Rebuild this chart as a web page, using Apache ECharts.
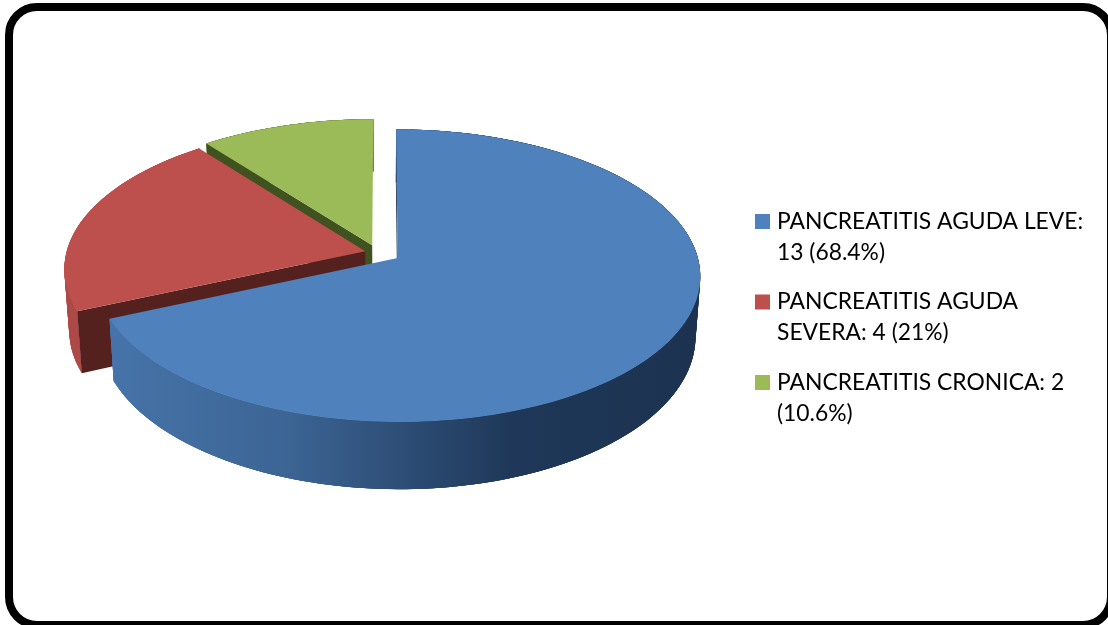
<!DOCTYPE html>
<html>
<head>
<meta charset="utf-8">
<style>html,body{margin:0;padding:0;background:#fff}#c{width:1108px;height:625px}</style>
<script src="https://cdn.jsdelivr.net/npm/echarts@6/dist/echarts.min.js"></script>
</head>
<body>
<div id="c"></div>
<script>
const categories = ['PANCREATITIS AGUDA LEVE:\n13 (68.4%)', 'PANCREATITIS AGUDA\nSEVERA: 4 (21%)', 'PANCREATITIS CRONICA: 2\n(10.6%)'];
const values = [13, 4, 2];

// Look of each slice: top face, outer wall, cut face, explosion in unit-circle terms
const topColors = ['#4f81bd', '#bd4f4c', '#9bbb59'];
const faceColors = ['#1c3350', '#54211f', '#3f5220'];
const explode = [[0.0503, 0.0327], [-0.0582, -0.0146], [-0.035, -0.0568]];
const blueWall = [[0, '#4673a9'], [0.3, '#3c6594'], [0.5, '#2d4d75'], [0.68, '#1f3859'], [1, '#1c3250']];
const wallColors = [
  { type: 'linear', x: 110, y: 0, x2: 700, y2: 0, global: true, colorStops: blueWall.map(s => ({ offset: s[0], color: s[1] })) },
  '#ad4a48',
  '#5f7336'
];

// Perspective projection of the tilted pie
const P = { x0: 382.6, y0: 253.3, b: 299, a: 143, k: 0.12, depth: 59, shrink: 0.985 };
const total = values.reduce((s, v) => s + v, 0);

function project(X, Y) {
  const w = 1 - P.k * Y;
  return [P.x0 + P.b * X / w, P.y0 + P.a * Y / w];
}
function projectLow(X, Y) {
  const w = 1 - P.k * Y;
  return [P.x0 + P.shrink * P.b * X / w, P.y0 + (P.a * Y + P.depth) / w];
}
function renderSlice(idx) {
  return function (params, api) {
    const value = api.value(0);
    let before = 0;
    for (let i = 0; i < idx; i++) before += values[i];
    const t0 = before / total * Math.PI * 2;
    const t1 = (before + value) / total * Math.PI * 2;
    const [ex, ey] = explode[idx];
    const steps = Math.max(8, Math.round((t1 - t0) / (Math.PI * 2) * 240));
    const rim = [];
    for (let i = 0; i <= steps; i++) {
      const t = t0 + (t1 - t0) * i / steps;
      rim.push([ex + Math.sin(t), ey - Math.cos(t)]);
    }
    const topArc = rim.map(p => project(p[0], p[1]));
    const lowArc = rim.map(p => projectLow(p[0], p[1]));
    const apexTop = project(ex, ey);
    const apexLow = projectLow(ex, ey);
    const children = [];
    // Wall: one smooth band, then overlapping quads so its silhouette joins both rims
    children.push({ type: 'polygon', shape: { points: topArc.concat(lowArc.slice().reverse()) }, style: { fill: wallColors[idx] } });
    for (let i = 0; i < steps; i++) {
      const j = Math.min(i + 3, steps);
      children.push({
        type: 'polygon',
        shape: { points: [topArc[i], topArc[j], lowArc[j], lowArc[i]] },
        style: { fill: wallColors[idx] }
      });
    }
    children.push({ type: 'polygon', shape: { points: [apexTop, topArc[0], lowArc[0], apexLow] }, style: { fill: faceColors[idx] } });
    children.push({ type: 'polygon', shape: { points: [apexTop].concat(topArc) }, style: { fill: topColors[idx] } });
    return { type: 'group', children };
  };
}

// Legend marker: square in the first text line of a two-line entry
const legendIcon = 'path://M0 0L0 0M0 8H15V23H0ZM17 62L17 62';

const chart = echarts.init(document.getElementById('c'), null, { renderer: 'canvas' });
chart.setOption({
  animation: false,
  backgroundColor: '#ffffff',
  graphic: [{
    type: 'rect', z: -1, silent: true,
    shape: { x: 9, y: 7, width: 1102, height: 618, r: 28 },
    style: { fill: '#ffffff', stroke: '#000000', lineWidth: 8 }
  }],
  legend: {
    orient: 'vertical',
    left: 750,
    top: 201,
    itemWidth: 17,
    itemHeight: 62,
    itemGap: 18.5,
    icon: legendIcon,
    selectedMode: false,
    data: categories,
    textStyle: { fontFamily: 'Lato', fontSize: 22.85, lineHeight: 31, color: '#000000' }
  },
  series: [0, 1, 2].map(i => ({
    type: 'custom',
    name: categories[i],
    coordinateSystem: 'none',
    silent: true,
    z: 5 - i,
    itemStyle: { color: topColors[i] },
    renderItem: renderSlice(i),
    data: [[values[i]]]
  }))
});
</script>
</body>
</html>
